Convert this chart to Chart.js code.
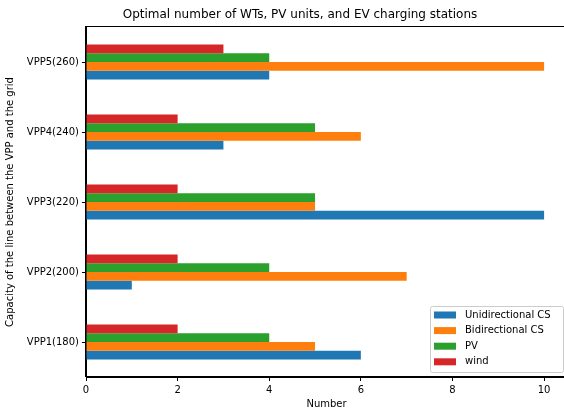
<!DOCTYPE html>
<html>
<head>
<meta charset="utf-8">
<script src="https://cdn.jsdelivr.net/npm/chart.js@4"></script>
<style>
  html, body { margin: 0; padding: 0; background: #fff; overflow: hidden; }
  #wrap { width: 570px; height: 410px; }
</style>
</head>
<body>
<div id="wrap"><canvas id="chart" width="570" height="410"></canvas></div>
<script>
// 類別與數值
const categories = ['VPP1(180)', 'VPP2(200)', 'VPP3(220)', 'VPP4(240)', 'VPP5(260)'];
const unidirectionalCS = [6, 1, 10, 3, 4];
const bidirectionalCS = [5, 7, 5, 6, 10];
const pv = [4, 4, 5, 5, 4];
const wind = [2, 2, 2, 2, 3];
const xTicks = [0, 2, 4, 6, 8, 10];

const FONT = 'DejaVu Sans';
const TITLE = 'Optimal number of WTs, PV units, and EV charging stations';
const series = [
    { label: 'Unidirectional CS', data: unidirectionalCS, color: '#1f77b4' },
    { label: 'Bidirectional CS', data: bidirectionalCS, color: '#ff7f0e' },
    { label: 'PV', data: pv, color: '#2ca02c' },
    { label: 'wind', data: wind, color: '#d62728' }
];

// 類別軸由上往下，所以把順序反過來（VPP1 在最下面，藍色在每組最下面）
const labels = categories.slice().reverse();
const datasets = series.slice().reverse().map(s => ({
    label: s.label,
    data: s.data.slice().reverse(),
    backgroundColor: s.color,
    borderWidth: 0,
    categoryPercentage: 0.5,
    barPercentage: 1.0
}));

// 標題、外框、右下角圖例（仿 matplotlib）
const framePlugin = {
    id: 'frame',
    afterDraw(chart) {
        const { ctx, chartArea: a } = chart;
        ctx.save();
        ctx.fillStyle = '#000';
        ctx.font = `12px "${FONT}"`;
        ctx.textAlign = 'center';
        ctx.textBaseline = 'middle';
        ctx.fillText(TITLE, 300, 15);

        ctx.strokeStyle = '#000';
        ctx.lineWidth = 1;
        ctx.strokeRect(Math.round(a.left) - 0.5, Math.round(a.top) - 0.5, a.right - a.left, a.bottom - a.top);

        // 圖例
        const boxW = 133, boxH = 66;
        const x0 = 430, y0 = a.bottom - 5 - boxH;
        ctx.fillStyle = 'rgba(255,255,255,0.8)';
        ctx.strokeStyle = '#cccccc';
        ctx.beginPath();
        ctx.roundRect(x0 + 0.5, y0 + 0.5, boxW, boxH, 2);
        ctx.fill();
        ctx.stroke();
        ctx.font = `10px "${FONT}"`;
        ctx.textAlign = 'left';
        series.forEach((s, i) => {
            const cy = y0 + 9 + i * 15.6;
            ctx.fillStyle = s.color;
            ctx.fillRect(x0 + 4, cy - 3.5, 22, 7);
            ctx.fillStyle = '#000';
            ctx.fillText(s.label, x0 + 35, cy);
        });
        ctx.restore();
    }
};

new Chart(document.getElementById('chart').getContext('2d'), {
    type: 'bar',
    data: { labels: labels, datasets: datasets },
    options: {
        indexAxis: 'y',
        responsive: false,
        animation: false,
        layout: { padding: { left: 0, right: 3, top: 27, bottom: 0 } },
        scales: {
            x: {
                min: 0,
                max: 10.5,
                afterBuildTicks: scale => { scale.ticks = xTicks.map(v => ({ value: v })); },
                afterFit: scale => { scale.height = 33; },
                grid: { drawOnChartArea: false, drawTicks: true, tickLength: 4, color: '#000' },
                border: { display: true, color: '#000' },
                ticks: { color: '#000', padding: 3, font: { family: FONT, size: 10 } },
                title: { display: true, text: 'Number', color: '#000', padding: { top: 0, bottom: 0 }, font: { family: FONT, size: 10 } }
            },
            y: {
                afterFit: scale => { scale.width = 86; },
                grid: { offset: false, drawOnChartArea: false, drawTicks: true, tickLength: 4, color: '#000' },
                border: { display: true, color: '#000' },
                ticks: { color: '#000', padding: 3, font: { family: FONT, size: 10 } },
                title: { display: true, text: 'Capacity of the line between the VPP and the grid', color: '#000', padding: { top: 4, bottom: 0 }, font: { family: FONT, size: 10 } }
            }
        },
        plugins: {
            legend: { display: false },
            tooltip: { enabled: false },
            title: { display: false }
        }
    },
    plugins: [framePlugin]
});
</script>
</body>
</html>
